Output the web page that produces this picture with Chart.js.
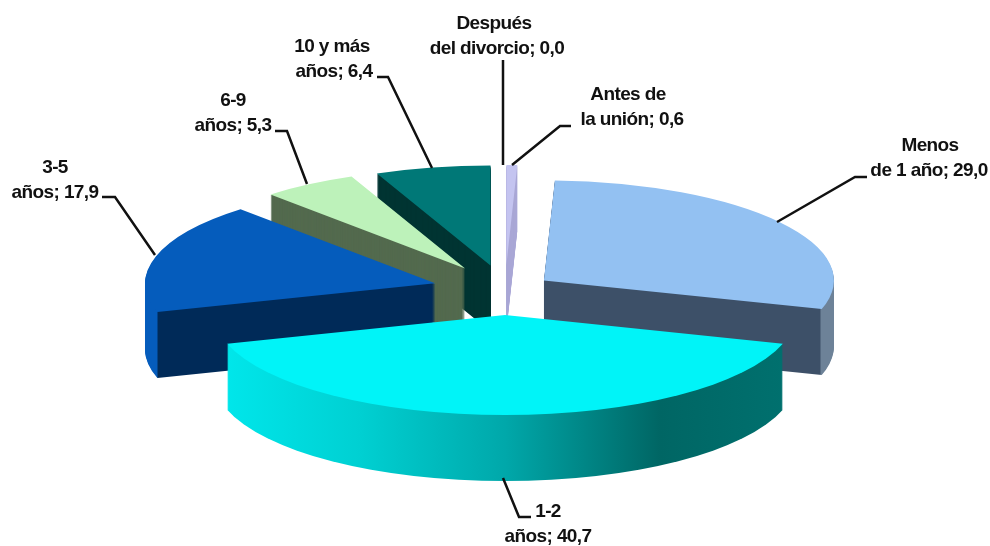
<!DOCTYPE html>
<html lang="es">
<head>
  <meta charset="UTF-8" />
  <title>Pastel 3D</title>
  <script src="https://cdn.jsdelivr.net/npm/chart.js"></script>
  <style>
    html, body { margin: 0; padding: 0; background: #fff; }
    canvas { display: block; }
  </style>
</head>
<body>
  <canvas id="pie" width="990" height="546"></canvas>

  <script>
    // Datos
    const categories = [
      ['Después', 'del divorcio'],
      ['Antes de', 'la unión'],
      ['Menos', 'de 1 año'],
      ['1-2', 'años'],
      ['3-5', 'años'],
      ['6-9', 'años'],
      ['10 y más', 'años']
    ];
    const values = [0.0, 0.6, 29.0, 40.7, 17.9, 5.3, 6.4];

    // Colores de la cara superior y de la pared
    const topColors = ['#c4c4f0', '#c4c4f0', '#93c1f2', '#00f4f8', '#055cbc', '#bdf2ba', '#007877'];
    const wallColors = [
      '#aaa8d6',
      '#aaa8d6',
      [[810, '#3d5068'], [820, '#3d5068'], [821, '#6d8298'], [840, '#6d8298']],
      [[227, '#00e6ea'], [360, '#00d0d2'], [505, '#00a8aa'], [660, '#006664'], [783, '#00706e']],
      [[140, '#055cbc'], [157, '#055cbc'], [158, '#002a58'], [440, '#002a58']],
      '#536a4e',
      '#003432'
    ];

    // Geometría del pastel: centro, semiejes y altura en px
    const pieCenter = { x: 505, y: 290 };
    const rimX = 290;
    const rimY = 100;
    const depth = 66;
    const explode = [0.25, 0.25, 0.165, 0.25, 0.25, 0.255, 0.25];
    const drawOrder = [1, 6, 5, 4, 2, 3];

    // Etiquetas y líneas guía
    const labelPos = [
      { x: 494, y: 24, dx: 3, leader: [[503, 60], [503, 165]] },
      { x: 628, y: 95, dx: 4, leader: [[571, 126], [560, 126], [512, 165]] },
      { x: 930, y: 146, dx: -1, leader: [[867, 177], [855, 177], [777, 222]] },
      { x: 548, y: 512, dx: 0, leader: [[503, 478], [519, 517], [531, 517]] },
      { x: 55, y: 168, dx: 0, leader: [[102, 197], [115, 197], [155, 255]] },
      { x: 233, y: 101, dx: 0, leader: [[275, 131], [287, 131], [307, 184]] },
      { x: 332, y: 47, dx: 2, leader: [[377, 77], [388, 77], [432, 168]] }
    ];

    function wallFill(ctx, wall) {
      if (typeof wall === 'string') return wall;
      const inv = ctx.getTransform().inverse();
      const x0 = wall[0][0];
      const x1 = wall[wall.length - 1][0];
      const grad = ctx.createLinearGradient(
        inv.transformPoint({ x: x0, y: 0 }).x, 0,
        inv.transformPoint({ x: x1, y: 0 }).x, 0
      );
      wall.forEach(s => grad.addColorStop((s[0] - x0) / (x1 - x0), s[1]));
      return grad;
    }

    function drawArcAs(ctx, arc, color) {
      const base = arc.options;
      arc.options = Object.assign({}, base, { backgroundColor: color });
      arc.draw(ctx);
      arc.options = base;
    }

    // Aplasta el pastel y le da altura, las porciones las dibuja Chart.js
    const pie3d = {
      id: 'pie3d',
      beforeDatasetDraw(chart, args) {
        const ctx = chart.ctx;
        const arcs = args.meta.data;
        drawOrder.forEach(i => {
          const arc = arcs[i];
          const r = arc.outerRadius;
          const mid = (arc.startAngle + arc.endAngle) / 2;
          const place = yShift => {
            ctx.setTransform(1, 0, 0, 1, 0, 0);
            ctx.translate(pieCenter.x, pieCenter.y + yShift);
            ctx.scale(rimX / r, rimY / r);
            ctx.translate(Math.cos(mid) * explode[i] * r, Math.sin(mid) * explode[i] * r);
            ctx.translate(-arc.x, -arc.y);
          };
          ctx.save();
          place(0);
          const wall = wallFill(ctx, wallColors[i]);
          for (let k = depth; k >= 1; k--) {
            place(k);
            drawArcAs(ctx, arc, wall);
          }
          place(0);
          drawArcAs(ctx, arc, topColors[i]);
          ctx.restore();
        });
        return false;
      },
      afterDraw(chart) {
        const ctx = chart.ctx;
        ctx.save();
        ctx.strokeStyle = '#111';
        ctx.lineWidth = 2.5;
        ctx.fillStyle = '#111';
        ctx.font = 'bold 19px "Liberation Sans", Arial, sans-serif';
        ctx.letterSpacing = '-0.6px';
        ctx.textAlign = 'center';
        ctx.textBaseline = 'middle';
        labelPos.forEach((p, i) => {
          ctx.beginPath();
          p.leader.forEach((pt, j) => j ? ctx.lineTo(pt[0], pt[1]) : ctx.moveTo(pt[0], pt[1]));
          ctx.stroke();
          const val = values[i].toFixed(1).replace('.', ',');
          ctx.fillText(categories[i][0], p.x, p.y);
          ctx.fillText(categories[i][1] + '; ' + val, p.x + p.dx, p.y + 25);
        });
        ctx.restore();
      }
    };

    new Chart(document.getElementById('pie'), {
      type: 'pie',
      data: {
        labels: categories,
        datasets: [{ data: values, backgroundColor: topColors, borderWidth: 0 }]
      },
      options: {
        responsive: false,
        animation: false,
        plugins: { legend: { display: false }, tooltip: { enabled: false } }
      },
      plugins: [pie3d]
    });
  </script>
</body>
</html>
